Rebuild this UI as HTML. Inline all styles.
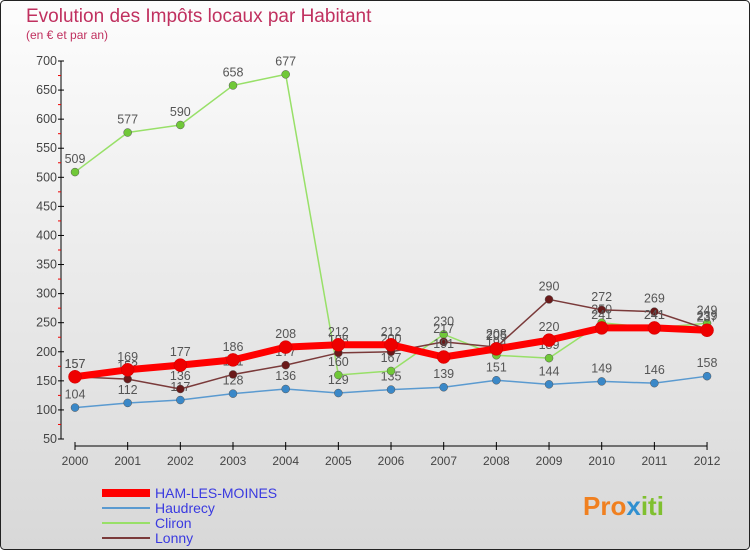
<!DOCTYPE html>
<html><head><meta charset="utf-8"><style>
body{margin:0;width:750px;height:550px;overflow:hidden;font-family:"Liberation Sans",sans-serif}
</style></head><body>
<svg width="750" height="550" xmlns="http://www.w3.org/2000/svg">
<defs><linearGradient id="bg" x1="0" y1="0" x2="0" y2="1"><stop offset="0" stop-color="#fdfdfd"/><stop offset="1" stop-color="#d8d8d8"/></linearGradient></defs>
<rect x="0.5" y="0.5" width="749" height="549" rx="4" fill="url(#bg)" stroke="#222"/>
<text x="26" y="22" font-size="19" fill="#c0305f">Evolution des Impôts locaux par Habitant</text>
<text x="26" y="39" font-size="12" fill="#c0305f">(en € et par an)</text>
<g id="axes"></g><g id="series"></g><g id="legend"></g>
<text x="583" y="515" font-size="26" font-weight="bold" fill="#f08020">Pro<tspan fill="#3090d0">x</tspan><tspan fill="#80c030">iti</tspan></text>
</svg>
<script>
const years=[2000,2001,2002,2003,2004,2005,2006,2007,2008,2009,2010,2011,2012];
const yTicks=[50,100,150,200,250,300,350,400,450,500,550,600,650,700];
const seriesNames=["HAM-LES-MOINES","Haudrecy","Cliron","Lonny"];
const ham=[157,169,177,186,208,212,212,191,205,220,241,241,237];
const haudrecy=[104,112,117,128,136,129,135,139,151,144,149,146,158];
const cliron=[509,577,590,658,677,160,167,230,194,189,250,241,249];
const lonny=[157,153,136,161,177,198,200,217,208,290,272,269,239];
const NS="http://www.w3.org/2000/svg";
const X=i=>75+i*52.67, Y=v=>439-(v-50)*378/650;
function mk(tag,attrs,parent){const e=document.createElementNS(NS,tag);for(const k in attrs)e.setAttribute(k,attrs[k]);parent.appendChild(e);return e;}
const ax=document.getElementById('axes');
let a=mk('line',{x1:61,y1:Y(700),x2:61,y2:Y(50),stroke:'#000'},ax);


a=mk('line',{x1:75,y1:446,x2:X(12),y2:446,stroke:'#000'},ax);


yTicks.forEach((v,i)=>{
 mk('line',{x1:58,y1:Y(v),x2:64,y2:Y(v),stroke:'#000'},ax);
 if(i<yTicks.length-1) mk('line',{x1:58,y1:Y(v+25),x2:61,y2:Y(v+25),stroke:'#e00'},ax);
 const t=mk('text',{x:57,y:Y(v)+4,'font-size':12.5,'text-anchor':'end',fill:'#444'},ax);t.textContent=v;
 
 
});
years.forEach((y,i)=>{
 mk('line',{x1:X(i),y1:442,x2:X(i),y2:450,stroke:'#000'},ax);
 const t=mk('text',{x:X(i),y:465,'font-size':12,'text-anchor':'middle',fill:'#444'},ax);t.textContent=y;
 
 
});
const sg=document.getElementById('series');
const defs=[[haudrecy,'#5a9ad0','#3a88c8',1.5,4,'haudrecy'],[cliron,'#98e068','#70c838',1.5,4,'cliron'],[lonny,'#7a3a3a','#6a1a1a',1.5,4,'lonny'],[ham,'#ff0000','#ee0000',7,6.5,'ham-les-moines']];
defs.forEach(([d,lc,pc,w,r,n])=>{
 const g=mk('g',{},sg);
 
 
 const p=mk('polyline',{points:d.map((v,i)=>X(i)+','+Y(v)).join(' '),fill:'none',stroke:lc,'stroke-width':w,'stroke-linejoin':'round'},g);
 
 
 d.forEach((v,i)=>{
  const c=mk('circle',{cx:X(i),cy:Y(v),r:r,fill:pc,stroke:n=='ham-les-moines'?'#c00':'#555','stroke-width':0.5},g);
  
  
  const t=mk('text',{x:X(i),y:Y(v)-9,'font-size':12.5,'text-anchor':'middle',fill:'#555'},g);t.textContent=v;
  
  
 });
});
const lg=document.getElementById('legend');
const lcols=['#ff0000','#5a9ad0','#98e068','#7a3a3a'],lw=[8,2,2,2];
seriesNames.forEach((s,i)=>{
 const y=493+i*15;
 const l=mk('line',{x1:102,y1:y,x2:150,y2:y,stroke:lcols[i],'stroke-width':lw[i]},lg);
 
 
 const t=mk('text',{x:155,y:y+5,'font-size':14,fill:'#3a3ae0'},lg);t.textContent=s;
 
 
});
</script>
</body></html>
